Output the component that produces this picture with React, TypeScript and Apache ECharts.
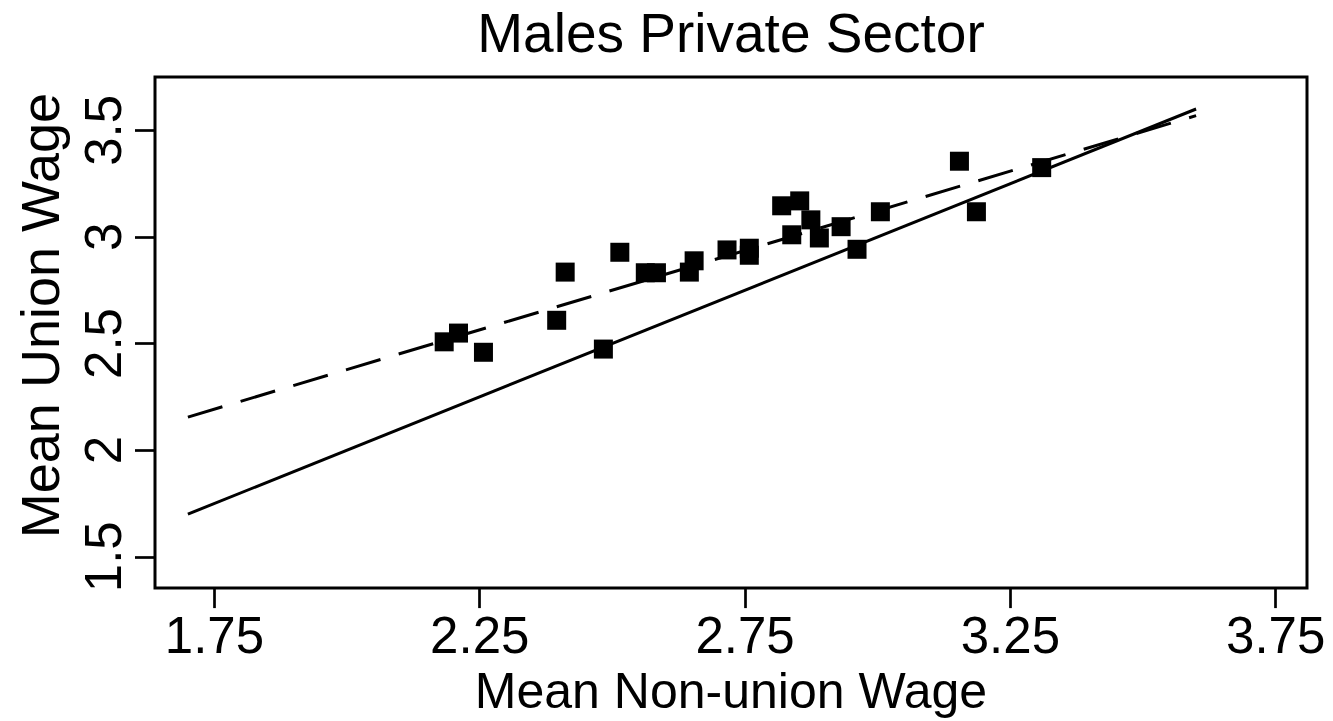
import React, { useEffect, useRef } from "react";
import * as echarts from "echarts";

const nonUnionWage = [
  2.183, 2.210, 2.257, 2.395, 2.411, 2.483, 2.514, 2.562, 2.583, 2.645, 2.654, 2.716, 2.758,
  2.758, 2.819, 2.838, 2.853, 2.874, 2.890, 2.931, 2.961, 3.005, 3.154, 3.186, 3.309,
];
const unionWage = [
  2.508, 2.549, 2.459, 2.609, 2.835, 2.474, 2.928, 2.832, 2.832, 2.835, 2.888, 2.939, 2.947,
  2.914, 3.146, 3.010, 3.169, 3.080, 2.995, 3.048, 2.942, 3.118, 3.355, 3.118, 3.325,
];
// 45-degree reference line (solid) and fitted regression line (dashed), endpoints
const equalityLineX = [1.70, 3.60];
const equalityLineY = [1.70, 3.60];
const fitLineX = [1.70, 3.60];
const fitLineY = [2.155, 3.569];

const xTicks = [1.75, 2.25, 2.75, 3.25, 3.75];
const yTicks = [1.5, 2, 2.5, 3, 3.5];

const FONT = "'Liberation Sans', Arial, Helvetica, sans-serif";

export default function App() {
  const ref = useRef<HTMLDivElement>(null);
  useEffect(() => {
    if (!ref.current) return;
    const chart = echarts.init(ref.current, undefined, { renderer: "svg" });
    const points = nonUnionWage.map((x, i) => [x, unionWage[i]]);
    const eq = equalityLineX.map((x, i) => [x, equalityLineY[i]]);
    const fit = fitLineX.map((x, i) => [x, fitLineY[i]]);
    chart.setOption({
      animation: false,
      backgroundColor: "#ffffff",
      title: {
        text: "Males Private Sector",
        left: 731,
        textAlign: "center",
        top: 5,
        padding: 0,
        textStyle: { fontFamily: FONT, fontSize: 55, fontWeight: "normal", color: "#000" },
      },
      grid: {
        left: 155,
        right: 26,
        top: 77,
        bottom: 130,
        show: true,
        borderColor: "#000",
        borderWidth: 3,
        backgroundColor: "transparent",
      },
      xAxis: {
        type: "value",
        min: 1.638,
        max: 3.809,
        name: "Mean Non-union Wage",
        nameLocation: "middle",
        nameGap: 73,
        nameTextStyle: { fontFamily: FONT, fontSize: 50, color: "#000" },
        axisLine: { show: false },
        splitLine: { show: false },
        axisTick: {
          show: true,
          length: 20,
          customValues: xTicks,
          lineStyle: { color: "#000", width: 2.7 },
        },
        axisLabel: {
          customValues: xTicks,
          formatter: (v: number) => v.toFixed(2),
          margin: 22,
          fontFamily: FONT,
          fontSize: 51,
          color: "#000",
        },
      },
      yAxis: {
        type: "value",
        min: 1.353,
        max: 3.75,
        name: "Mean Union Wage",
        nameLocation: "middle",
        nameGap: 88,
        nameTextStyle: {
          fontFamily: FONT,
          fontSize: 54,
          color: "#000",
          padding: [0, 0, 0, 34],
        },
        axisLine: { show: false },
        splitLine: { show: false },
        axisTick: {
          show: true,
          length: 20,
          customValues: yTicks,
          lineStyle: { color: "#000", width: 2.7 },
        },
        axisLabel: {
          customValues: yTicks,
          rotate: 90,
          margin: 26,
          fontFamily: FONT,
          fontSize: 51,
          color: "#000",
        },
      },
      series: [
        {
          type: "scatter",
          data: points,
          symbol: "rect",
          symbolSize: 19,
          itemStyle: { color: "#000", opacity: 1 },
          z: 2,
        },
        {
          type: "line",
          data: eq,
          showSymbol: false,
          symbol: "none",
          lineStyle: { color: "#000", width: 3, type: "solid" },
          z: 3,
        },
        {
          type: "line",
          data: fit,
          showSymbol: false,
          symbol: "none",
          lineStyle: { color: "#000", width: 3, type: [36, 19] },
          z: 3,
        },
      ],
    });
    return () => chart.dispose();
  }, []);
  return (
    <div
      ref={ref}
      style={{ position: "fixed", left: 0, top: 0, width: 1333, height: 721, background: "#fff" }}
    />
  );
}
